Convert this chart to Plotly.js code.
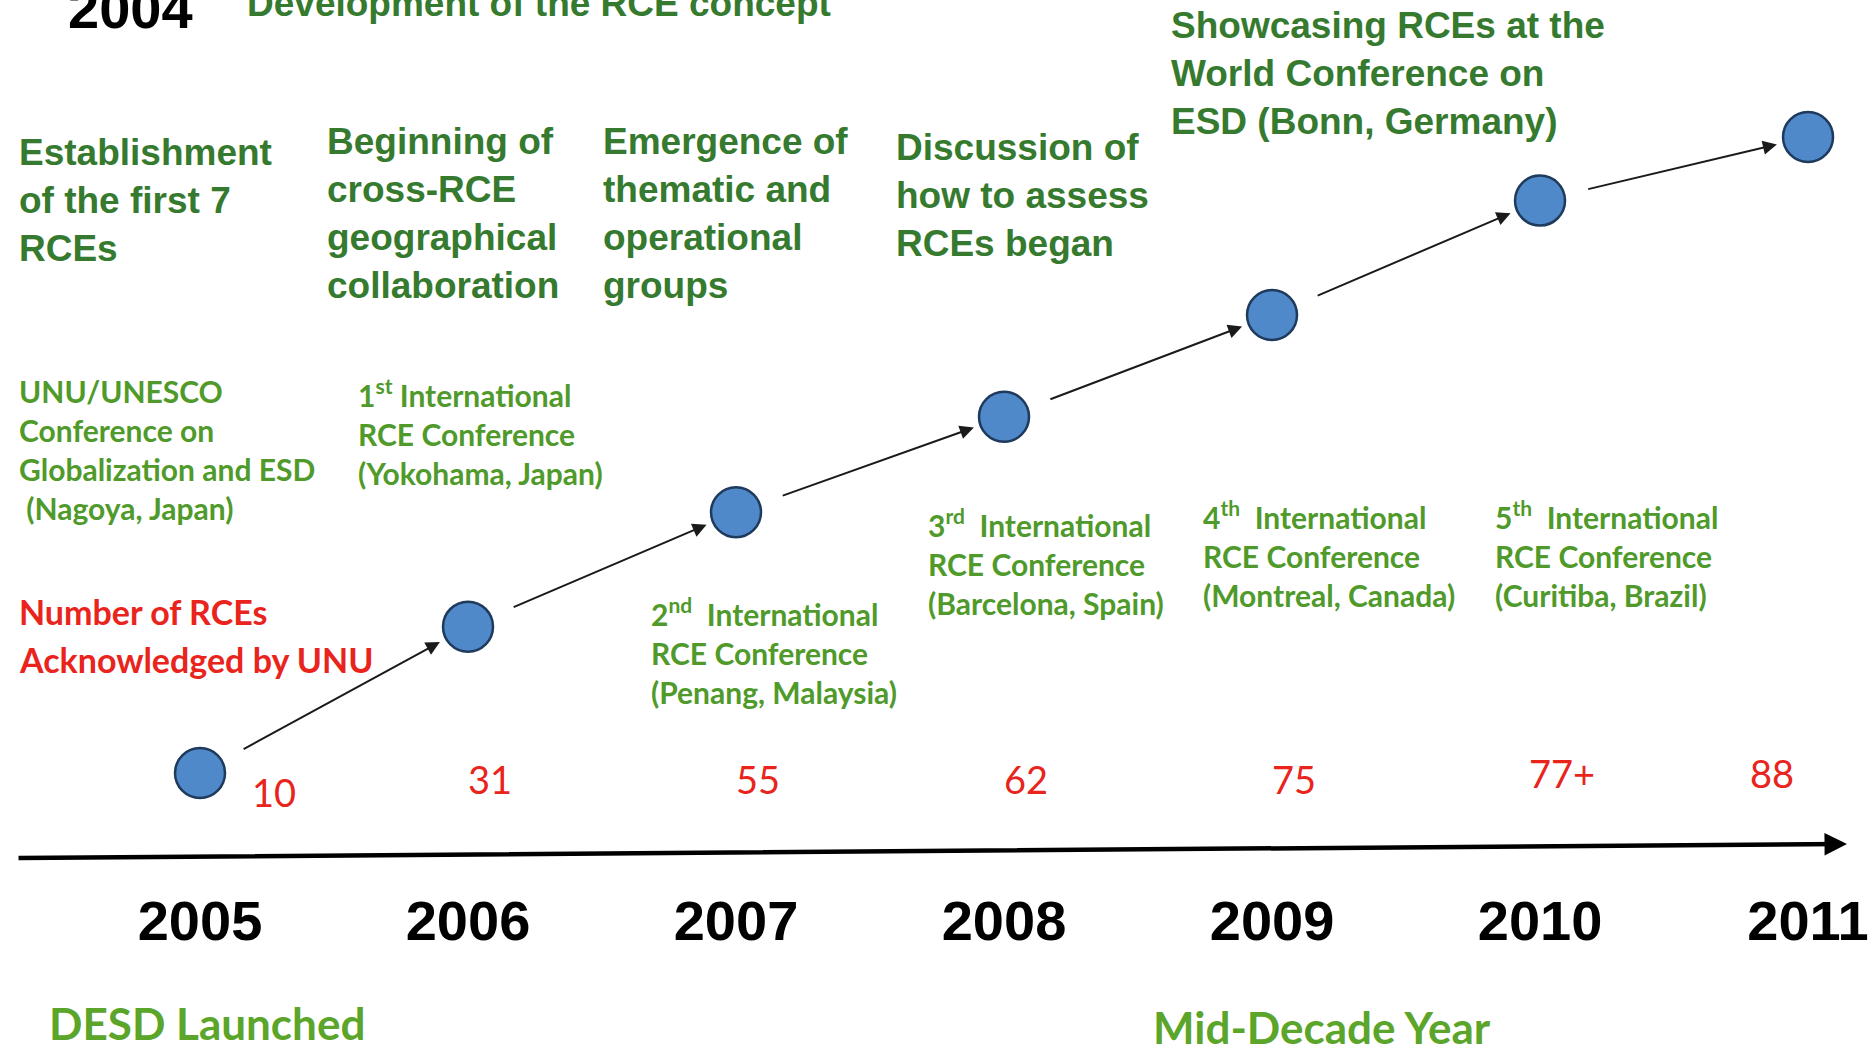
<!DOCTYPE html>
<html>
<head>
<meta charset="utf-8">
<script src="https://cdn.plot.ly/plotly-3.0.1.min.js"></script>
<style>html,body{margin:0;padding:0;background:#fff;}#chart{width:1874px;height:1044px;}</style>
</head>
<body>
<div id="chart"></div>
<script>
// ---- data ----
const years = [2005, 2006, 2007, 2008, 2009, 2010, 2011];
const yearLabels = ['2005', '2006', '2007', '2008', '2009', '2010', '2011'];
const rceCounts = ['10', '31', '55', '62', '75', '77+', '88'];
// relative height of each milestone circle on the rising path (0 = 2005, 100 = 2011)
const stepLevel = [0, 23, 41, 56, 72, 90, 100];
const topMilestones = [
  'Establishment<br>of the first 7<br>RCEs',
  'Beginning of<br>cross-RCE<br>geographical<br>collaboration',
  'Emergence of<br>thematic and<br>operational<br>groups',
  'Discussion of<br>how to assess<br>RCEs began',
  'Showcasing RCEs at the<br>World Conference on<br>ESD (Bonn, Germany)'
];
const conferences = [
  'UNU/UNESCO<br>Conference on<br>Globalization and ESD<br> (Nagoya, Japan)',
  '1<sup>st</sup> International<br>RCE Conference<br>(Yokohama, Japan)',
  '2<sup>nd</sup>  International<br>RCE Conference<br>(Penang, Malaysia)',
  '3<sup>rd</sup>  International<br>RCE Conference<br>(Barcelona, Spain)',
  '4<sup>th</sup>  International<br>RCE Conference<br>(Montreal, Canada)',
  '5<sup>th</sup>  International<br>RCE Conference<br>(Curitiba, Brazil)'
];
const headerYear = '2004';
const headerText = 'Development of the RCE concept';
const countTitleLines = ['Number of RCEs', 'Acknowledged by UNU'];
const bottomNotes = ['DESD Launched', 'Mid-Decade Year'];

// ---- styles ----
const ARIAL = 'Liberation Sans, Arial, sans-serif';
const CALIBRI = 'Lato, Carlito, Calibri, sans-serif';
const DARK_GREEN = '#357a2e';
const GREEN = '#4f9a2a';
const BRIGHT_GREEN = '#5aa52a';
const RED = '#e8241c';

const trace = {
  type: 'scatter', mode: 'markers',
  x: years, y: stepLevel,
  marker: {size: 50, color: '#5089c9', line: {color: '#1e3a5c', width: 2.5}},
  hoverinfo: 'skip', showlegend: false, cliponaxis: false
};

const ann = [];
// connecting arrows between milestone circles
for (let i = 0; i < years.length - 1; i++) {
  ann.push({
    x: years[i + 1], y: stepLevel[i + 1], xref: 'x', yref: 'y',
    ax: years[i], ay: stepLevel[i], axref: 'x', ayref: 'y',
    text: '', showarrow: true, arrowhead: 2, arrowsize: 1.4, arrowwidth: 2,
    arrowcolor: '#1a1a1a', standoff: 32, startstandoff: 48
  });
}
// main timeline arrow
ann.push({
  x: 0.9856, y: 0.1916, xref: 'paper', yref: 'paper',
  ax: -1830, ay: 14, axref: 'pixel', ayref: 'pixel',
  text: '', showarrow: true, arrowhead: 2, arrowsize: 1, arrowwidth: 4.5, arrowcolor: '#000'
});
// counts
for (let i = 0; i < years.length; i++) {
  ann.push({
    x: years[i], y: 0.254, xref: 'x', yref: 'paper', text: rceCounts[i],
    showarrow: false, xanchor: 'center', yanchor: 'middle',
    xshift: i === 0 ? 74 : (i === years.length - 1 ? -36 : 22),
    yshift: i === 0 ? -13 : (i >= years.length - 2 ? 6 : 0),
    font: {family: CALIBRI, size: 38, color: RED}
  });
}
function txt(text, x, y, font, xa, ya) {
  ann.push({text: text, x: x, y: y, xref: 'paper', yref: 'paper', showarrow: false,
    xanchor: xa || 'left', yanchor: ya || 'top', align: 'left', font: font});
}
const topFont = {family: ARIAL, size: 37, color: DARK_GREEN, weight: 'bold'};
txt(headerYear, 0.0352, 0.992, {family: ARIAL, size: 56, color: '#000', weight: 'bold'}, 'left', 'middle');
txt(headerText, 0.1307, 0.997, topFont, 'left', 'middle');
txt(topMilestones[0], 0.0091, 0.8755, topFont);
txt(topMilestones[1], 0.1734, 0.886, topFont);
txt(topMilestones[2], 0.3207, 0.886, topFont);
txt(topMilestones[3], 0.4770, 0.8803, topFont);
txt(topMilestones[4], 0.6238, 0.9972, topFont);

const confFont = {family: CALIBRI, size: 30, color: GREEN, weight: 'bold'};
txt(conferences[0], 0.0091, 0.6447, confFont);
txt(conferences[1], 0.1900, 0.6447, confFont);
txt(conferences[2], 0.3463, 0.4350, confFont);
txt(conferences[3], 0.4941, 0.5202, confFont);
txt(conferences[4], 0.6409, 0.5279, confFont);
txt(conferences[5], 0.7967, 0.5279, confFont);

const redFont = {family: CALIBRI, size: 34, color: RED, weight: 'bold'};
txt(countTitleLines[0], 0.0091, 1 - 611 / 1044, redFont, 'left', 'middle');
txt(countTitleLines[1], 0.0091, 1 - 659 / 1044, redFont, 'left', 'middle');
txt(bottomNotes[0], 0.0250, 0.0201, {family: CALIBRI, size: 44, color: BRIGHT_GREEN, weight: 'bold'}, 'left', 'middle');
txt(bottomNotes[1], 0.6143, 0.0163, {family: CALIBRI, size: 44, color: BRIGHT_GREEN, weight: 'bold'}, 'left', 'middle');

const layout = {
  width: 1874, height: 1044,
  margin: {l: 0, r: 0, t: 0, b: 0},
  paper_bgcolor: '#fff', plot_bgcolor: '#fff',
  showlegend: false,
  xaxis: {
    range: [2004.2537, 2011.2462], domain: [0, 1],
    showgrid: false, zeroline: false, showline: false, ticks: '',
    tickvals: years, ticktext: yearLabels,
    tickfont: {family: ARIAL, size: 56, color: '#000', weight: 'bold'},
    ticklabelstandoff: 25, ticklabeloverflow: 'allow', fixedrange: true
  },
  yaxis: {
    range: [-13.4, 121.54], domain: [0.178, 1],
    visible: false, showgrid: false, zeroline: false, fixedrange: true
  },
  annotations: ann
};
Plotly.newPlot('chart', [trace], layout, {staticPlot: true, displayModeBar: false});
</script>
</body>
</html>
